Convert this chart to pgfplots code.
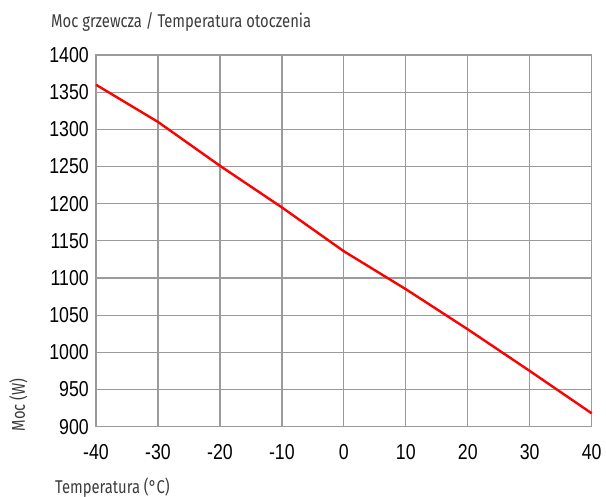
\documentclass[border=0pt]{standalone}
\usepackage{pgfplots}
\pgfplotsset{compat=1.18}
\usepackage{fontspec}
\setmainfont{Liberation Sans}[FakeStretch=0.82]
\newfontfamily\labelfont{Fira Sans}[FakeStretch=0.80]
\definecolor{gridgray}{RGB}{155,155,155}
\definecolor{labelgray}{RGB}{60,60,60}
\begin{document}
\begin{tikzpicture}[x=1pt,y=1pt]
\useasboundingbox (-96,-70.3) rectangle (510,426.7);
\begin{axis}[
    at={(0,0)}, anchor=south west,
    scale only axis,
    width=495.7pt, height=371.7pt,
    xmin=-40, xmax=40, ymin=900, ymax=1400,
    xtick={-40,-30,...,40},
    ytick={900,950,...,1400},
    grid=major,
    grid style={gridgray, line width=1.3pt},
    axis line style={gridgray, line width=1.3pt},
    major tick length=0pt,
    tick style={draw=none},
    ticklabel style={font=\fontsize{21.6}{24}\selectfont, inner sep=0pt},
    xticklabel style={anchor=north, yshift=-18pt},
    yticklabel style={anchor=east, xshift=-7pt},
    /pgf/number format/assume math mode=true,
    /pgf/number format/set thousands separator={},
    clip=false,
]
% moc grzewcza vs temperatura
\addplot[red, line width=2.4pt] coordinates {
    (-40,1360) (-30,1310) (-20,1251) (-10,1195) (0,1136)
    (10,1085) (20,1031) (30,975) (40,918)
};
\end{axis}
\node[anchor=base west, inner sep=0pt, text=labelgray, font=\labelfont\fontsize{18.5}{20}\selectfont] at (-45,398.7) {Moc grzewcza / Temperatura otoczenia};
\node[anchor=base west, inner sep=0pt, text=labelgray, font=\labelfont\fontsize{18.5}{20}\selectfont] at (-41,-66.6) {Temperatura (°C)};
\node[anchor=base west, rotate=90, inner sep=0pt, text=labelgray, font=\labelfont\fontsize{18.5}{20}\selectfont] at (-71,-5) {Moc (W)};
\end{tikzpicture}
\end{document}
